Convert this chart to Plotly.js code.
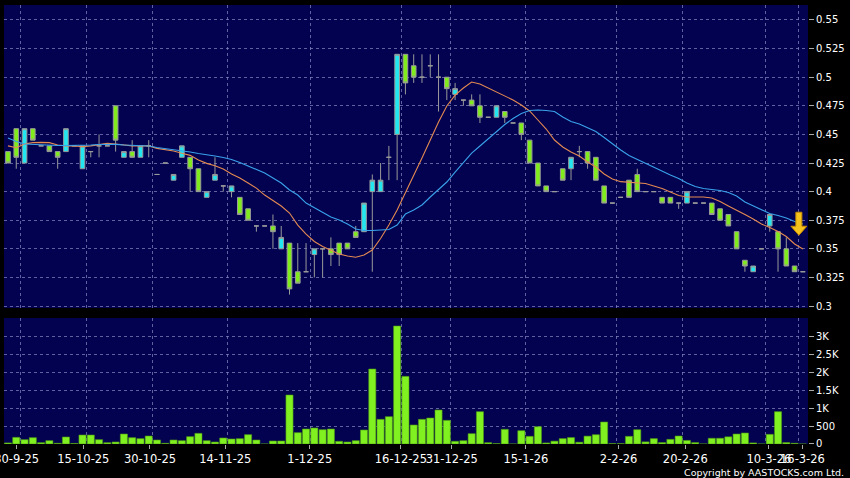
<!DOCTYPE html>
<html>
<head>
<meta charset="utf-8">
<script src="https://cdn.plot.ly/plotly-3.0.1.min.js"></script>
<style>
  html, body { margin: 0; padding: 0; background: #000; }
  #chart { width: 850px; height: 478px; }
</style>
</head>
<body>
<div id="chart"></div>
<script>
// ---- data (one entry per trading day) ----
const open  = [0.435,0.455,0.425,0.455,0.44,0.44,0.435,0.435,0.44,0.42,0.435,0.44,0.44,0.475,0.43,0.435,0.43,0.44,0.415,0.425,
               0.41,0.43,0.43,0.42,0.395,0.41,0.405,0.40,0.395,0.385,0.37,0.37,0.37,0.35,0.355,0.33,0.33,0.345,0.35,0.35,
               0.355,0.355,0.365,0.365,0.40,0.40,0.43,0.45,0.52,0.51,0.50,0.51,0.50,0.50,0.485,0.48,0.48,0.475,0.465,0.465,
               0.47,0.46,0.46,0.445,0.425,0.405,0.40,0.42,0.42,0.435,0.435,0.43,0.405,0.39,0.395,0.41,0.415,0.40,0.40,0.395,
               0.395,0.39,0.39,0.39,0.39,0.39,0.385,0.38,0.365,0.34,0.33,0.35,0.37,0.365,0.35,0.335,0.33];
const high  = [0.435,0.455,0.455,0.455,0.44,0.44,0.435,0.455,0.44,0.44,0.435,0.45,0.44,0.475,0.435,0.445,0.44,0.445,0.415,0.425,
               0.415,0.44,0.43,0.42,0.40,0.43,0.405,0.405,0.395,0.385,0.37,0.37,0.38,0.37,0.355,0.355,0.355,0.35,0.35,0.36,
               0.355,0.355,0.37,0.39,0.415,0.425,0.44,0.52,0.52,0.52,0.52,0.52,0.52,0.50,0.495,0.48,0.485,0.485,0.465,0.475,
               0.47,0.46,0.46,0.445,0.425,0.405,0.40,0.42,0.43,0.44,0.435,0.43,0.405,0.39,0.395,0.41,0.42,0.40,0.40,0.395,
               0.395,0.39,0.40,0.39,0.39,0.39,0.385,0.38,0.365,0.34,0.335,0.35,0.38,0.365,0.36,0.335,0.33];
const low   = [0.425,0.42,0.425,0.445,0.44,0.435,0.42,0.435,0.44,0.42,0.43,0.43,0.44,0.435,0.43,0.43,0.43,0.43,0.415,0.425,
               0.41,0.43,0.40,0.40,0.395,0.41,0.40,0.395,0.38,0.375,0.365,0.37,0.35,0.35,0.31,0.32,0.33,0.325,0.325,0.335,
               0.335,0.35,0.36,0.365,0.33,0.40,0.41,0.41,0.485,0.495,0.495,0.50,0.47,0.48,0.48,0.475,0.475,0.46,0.465,0.465,
               0.46,0.46,0.445,0.425,0.405,0.40,0.40,0.41,0.41,0.43,0.42,0.41,0.39,0.39,0.395,0.395,0.40,0.40,0.40,0.39,
               0.39,0.385,0.39,0.39,0.39,0.38,0.375,0.37,0.35,0.33,0.33,0.35,0.365,0.33,0.335,0.33,0.33];
const close = [0.425,0.43,0.455,0.445,0.44,0.435,0.43,0.455,0.44,0.44,0.435,0.44,0.44,0.445,0.435,0.43,0.44,0.44,0.415,0.425,
               0.415,0.44,0.42,0.40,0.40,0.415,0.405,0.405,0.38,0.375,0.37,0.37,0.365,0.36,0.315,0.32,0.33,0.35,0.35,0.345,
               0.345,0.35,0.36,0.39,0.41,0.41,0.43,0.52,0.495,0.50,0.50,0.51,0.50,0.49,0.49,0.48,0.475,0.465,0.465,0.475,
               0.465,0.46,0.45,0.425,0.405,0.40,0.40,0.41,0.43,0.435,0.425,0.41,0.39,0.39,0.395,0.395,0.40,0.40,0.40,0.39,
               0.39,0.39,0.40,0.39,0.39,0.38,0.375,0.37,0.35,0.335,0.335,0.35,0.38,0.35,0.335,0.33,0.33];
const volume = [30,186,121,177,37,93,20,196,15,251,251,121,37,56,279,177,149,223,112,20,
                112,93,205,298,93,56,168,140,149,261,112,0,84,84,1369,317,419,447,400,419,
                75,56,93,391,2095,689,763,3296,1890,531,689,726,950,661,75,93,289,903,37,10,
                410,0,372,214,484,30,80,150,180,50,220,260,614,10,10,214,400,60,150,40,
                130,223,100,40,0,160,160,200,279,307,30,0,270,903,40,20,0];
const maShort = [0.440,0.4384,0.4416,0.4428,0.443,0.4428,0.4407,0.440,0.440,0.4393,0.440,0.4413,0.4422,0.4416,0.4407,0.440,0.440,0.440,0.4378,0.4367,
                 0.4355,0.4335,0.4317,0.4276,0.4247,0.4227,0.4198,0.4154,0.4119,0.4075,0.4031,0.397,0.3918,0.3874,0.3813,0.3708,0.3629,0.3564,0.352,0.3485,
                 0.3455,0.3437,0.3426,0.3446,0.349,0.359,0.3708,0.3839,0.3988,0.4145,0.4294,0.4451,0.4608,0.4748,0.4844,0.4906,0.4958,0.4941,0.4906,0.4871,
                 0.4836,0.4801,0.4757,0.4705,0.4626,0.4547,0.4451,0.439,0.4346,0.4311,0.4259,0.4215,0.4154,0.411,0.4087,0.408,0.4075,0.4071,0.4049,0.4027,
                 0.3997,0.3966,0.3953,0.3953,0.3953,0.3944,0.3913,0.3874,0.3839,0.380,0.376,0.3717,0.3686,0.3651,0.3608,0.3542,0.3498];
const maLong  = [0.4469,0.4438,0.4416,0.4412,0.4407,0.4405,0.4403,0.4403,0.4403,0.4403,0.4407,0.4412,0.4413,0.4413,0.4407,0.4403,0.4403,0.4399,0.4386,0.4377,
                 0.4364,0.4355,0.4346,0.4333,0.4324,0.4311,0.4298,0.4281,0.4255,0.4224,0.4189,0.4163,0.4119,0.4075,0.4014,0.397,0.390,0.3861,0.3822,0.3778,
                 0.3752,0.3717,0.3673,0.366,0.366,0.3664,0.3669,0.3708,0.3804,0.3839,0.3883,0.3953,0.4023,0.4084,0.4171,0.4259,0.4337,0.4399,0.446,0.4521,
                 0.4587,0.4639,0.4683,0.4709,0.4713,0.4709,0.470,0.4652,0.4613,0.4591,0.456,0.4525,0.4473,0.4416,0.4364,0.4316,0.4281,0.4246,0.4215,0.418,
                 0.4145,0.4115,0.4075,0.4045,0.4027,0.4018,0.401,0.3992,0.3962,0.3909,0.3874,0.3839,0.3809,0.3791,0.3769,0.3739,0.3717];
const dateLabels = ['30-9-25','15-10-25','30-10-25','14-11-25','1-12-25','16-12-25','31-12-25','15-1-26','2-2-26','20-2-26','10-3-26','16-3-26'];
const priceTicks = [0.3,0.325,0.35,0.375,0.4,0.425,0.45,0.475,0.5,0.525,0.55];
const volTickVals = [0,500,1000,1500,2000,2500,3000];
const volTickText = ['0','500','1K','1.5K','2K','2.5K','3K'];

// ---- layout configuration ----
const xs = open.map((_, i) => i);
const labelPos = [1.05, 9.1, 17.15, 26.25, 36.45, 47.45, 53.6, 62.55, 73.75, 81.8, 91.9, 95.95];
const gridPos  = [1.5, 9.5, 17.5, 26.5, 36.5, 47.5, 53.5, 62.5, 73.5, 81.5, 91.5, 95.5];
const xRange = [-0.48, 96.62];
const FONT = 'DejaVu Sans, Verdana, sans-serif';
const gridCol = 'rgba(130,130,190,0.75)';
const dash = '3px,3px';

const traces = [
  {
    type: 'candlestick', x: xs, open: open, high: high, low: low, close: close,
    xaxis: 'x', yaxis: 'y', hoverinfo: 'skip', showlegend: false, whiskerwidth: 0,
    increasing: { fillcolor: '#22e6f0', line: { color: '#9a9a9a', width: 1 } },
    decreasing: { fillcolor: '#80ec1c', line: { color: '#9a9a9a', width: 1 } }
  },
  { type: 'scatter', mode: 'lines', x: xs, y: maShort, xaxis: 'x', yaxis: 'y',
    line: { color: '#e48a52', width: 1.1 }, hoverinfo: 'skip', showlegend: false },
  { type: 'scatter', mode: 'lines', x: xs, y: maLong, xaxis: 'x', yaxis: 'y',
    line: { color: '#3aa2ea', width: 1.1 }, hoverinfo: 'skip', showlegend: false },
  { type: 'bar', x: xs, y: volume, xaxis: 'x2', yaxis: 'y2', width: 0.86,
    marker: { color: '#80f020', line: { color: '#4f9a12', width: 0.6 } },
    hoverinfo: 'skip', showlegend: false }
];

const layout = {
  width: 850, height: 478,
  paper_bgcolor: '#000000', plot_bgcolor: '#020250',
  margin: { l: 4, r: 42, t: 5, b: 34 },
  font: { family: FONT, color: '#ffffff', size: 10 },
  boxgap: 0.2,
  showlegend: false,
  xaxis: {
    domain: [0, 1], anchor: 'y', range: xRange, rangeslider: { visible: false },
    tickmode: 'array', tickvals: gridPos, showticklabels: false, ticks: '',
    showgrid: true, gridcolor: gridCol, gridwidth: 1, griddash: dash,
    zeroline: false, showline: false, fixedrange: true
  },
  yaxis: {
    domain: [0.3098, 1], anchor: 'x', side: 'right', range: [0.2983, 0.5631],
    tickmode: 'array', tickvals: priceTicks, ticktext: priceTicks.map(String),
    ticks: 'outside', ticklen: 5, tickcolor: '#aaaaaa', tickwidth: 1,
    tickfont: { family: FONT, size: 10, color: '#ffffff' },
    showgrid: true, gridcolor: gridCol, gridwidth: 1, griddash: dash,
    zeroline: false, showline: false, fixedrange: true
  },
  xaxis2: {
    domain: [0, 1], anchor: 'y2', range: xRange,
    tickmode: 'array', tickvals: labelPos, ticktext: dateLabels, tickangle: 0,
    ticklabeloverflow: 'allow',
    ticks: 'outside', ticklen: 4, tickcolor: '#aaaaaa', tickwidth: 1,
    tickfont: { family: FONT, size: 11.5, color: '#ffffff' },
    showgrid: false,
    minor: { tickmode: 'array', tickvals: gridPos, ticks: '', showgrid: true,
             gridcolor: gridCol, gridwidth: 1, griddash: dash },
    zeroline: false, showline: false, fixedrange: true
  },
  yaxis2: {
    domain: [0, 0.287], anchor: 'x2', side: 'right', range: [0, 3520],
    tickmode: 'array', tickvals: volTickVals, ticktext: volTickText,
    ticks: 'outside', ticklen: 5, tickcolor: '#aaaaaa', tickwidth: 1,
    tickfont: { family: FONT, size: 10, color: '#ffffff' },
    showgrid: true, gridcolor: gridCol, gridwidth: 1, griddash: dash,
    zeroline: false, showline: false, fixedrange: true
  },
  shapes: [
    {
      type: 'path', xref: 'x', yref: 'y',
      xsizemode: 'pixel', ysizemode: 'pixel',
      xanchor: xs.length - 1, yanchor: 0.375,
      path: 'M -7,8 L -1,8 L -1,-6 L 4,-6 L -4,-15 L -12,-6 L -7,-6 Z',
      fillcolor: '#f6c21c', line: { color: '#c88a00', width: 1 }
    }
  ],
  annotations: [
    {
      text: 'Copyright by AASTOCKS.com Ltd.', showarrow: false,
      xref: 'paper', yref: 'paper', x: 1.0473, y: -0.064,
      xanchor: 'right', yanchor: 'middle',
      font: { family: FONT, size: 9.5, color: '#ffffff' }
    }
  ]
};

Plotly.newPlot('chart', traces, layout, { staticPlot: true, displayModeBar: false });
</script>
</body>
</html>
